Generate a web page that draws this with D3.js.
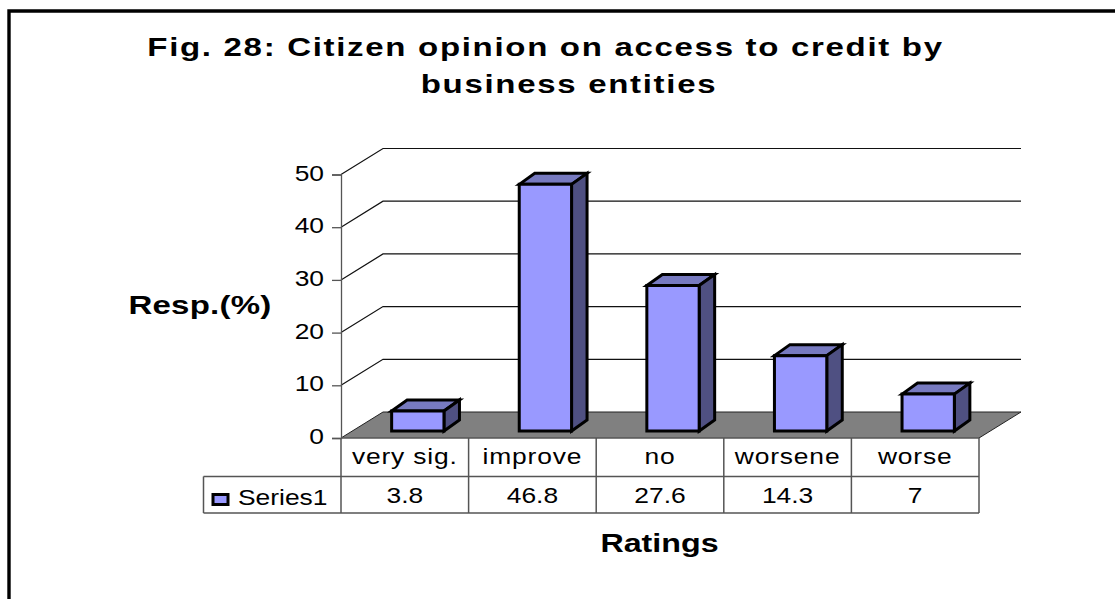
<!DOCTYPE html>
<html>
<head>
<meta charset="utf-8">
<script src="https://cdn.jsdelivr.net/npm/d3@7"></script>
<style>
html,body{margin:0;padding:0;background:#fff;}
svg{display:block;}
text{font-family:"Liberation Sans",Arial,sans-serif;fill:#000;}
</style>
</head>
<body>
<svg id="chart" width="1115" height="599"></svg>
<script>
const categories = ["very sig.", "improve", "no", "worsene", "worse"];
const seriesName = "Series1";
const values = [3.8, 46.8, 27.6, 14.3, 7];
const valueLabels = ["3.8", "46.8", "27.6", "14.3", "7"];
const yTicks = [0, 10, 20, 30, 40, 50];
const titleLines = ["Fig. 28: Citizen opinion on access to credit by", "business entities"];

const svg = d3.select("#chart");

// Chart frame: only the top and left edges fall inside the page
svg.append("path")
  .attr("d", "M9,599V11H1115")
  .attr("fill", "none").attr("stroke", "#000").attr("stroke-width", 3.4);

// Plot geometry: front plane of the floor and the depth of the 3D box
const left = 341, right = 979, floorY = 438, topY = 174.5;
const depth = {x: 42, y: -26};
const barDepth = {x: 15.5, y: -11};
const barInset = {x: 13, y: -7};

const x = d3.scaleBand().domain(categories).range([left, right]).paddingInner(0.59).paddingOuter(0.295);
const y = d3.scaleLinear().domain([0, 50]).range([floorY, topY]);

// All labels are set in a horizontally widened face
const wide = 1.2;
const widen = (sel, px, py, sx = wide) =>
  sel.attr("transform", (d, i) => `translate(${px(d, i)},${py(d, i)}) scale(${sx},1)`);

// Gridlines run up the side wall and along the back wall
svg.append("g").selectAll("path").data(yTicks.filter(d => d > 0)).join("path")
  .attr("d", d => `M${left},${y(d)}L${left + depth.x},${y(d) + depth.y}H${right + depth.x}`)
  .attr("fill", "none").attr("stroke", "#111").attr("stroke-width", 1.2);

// Floor
svg.append("path")
  .attr("d", `M${left},${floorY}L${left + depth.x},${floorY + depth.y}H${right + depth.x}L${right},${floorY}Z`)
  .attr("fill", "#808080");
svg.append("path")
  .attr("d", `M${left},${floorY}L${left + depth.x},${floorY + depth.y}H${right + depth.x}L${right},${floorY}`)
  .attr("fill", "none").attr("stroke", "#222").attr("stroke-width", 1);

// Value axis
const axis = d3.axisLeft(y).tickValues(yTicks).tickSize(9).tickPadding(0);
const axisG = svg.append("g").attr("transform", `translate(${left},0)`).call(axis);
axisG.selectAll("path,line").attr("stroke", "#555").attr("stroke-width", 1.3);
axisG.selectAll("text")
  .attr("x", 0).attr("dy", 0).attr("fill", "#000")
  .style("font-size", "22px").style("font-family", '"Liberation Sans",Arial,sans-serif');
widen(axisG.selectAll("text"), () => -17, () => 5.5);

// 3D bars: front, top and side faces
const bars = svg.append("g").selectAll("g").data(values).join("g")
  .attr("transform", (d, i) => `translate(${x(categories[i]) + barInset.x},${barInset.y})`);
const w = x.bandwidth();
const faces = [
  {fill: "#777ac0", d: v => `M0,${y(v)}l${barDepth.x},${barDepth.y}h${w}l${-barDepth.x},${-barDepth.y}Z`},
  {fill: "#4f5082", d: v => `M${w},${y(v)}l${barDepth.x},${barDepth.y}V${floorY + barDepth.y}l${-barDepth.x},${-barDepth.y}Z`},
  {fill: "#9999ff", d: v => `M0,${y(v)}h${w}V${floorY}H0Z`}
];
faces.forEach(f => {
  bars.append("path").attr("d", f.d).attr("fill", f.fill)
    .attr("stroke", "#000").attr("stroke-width", 3).attr("stroke-linejoin", "miter");
});

// Data table below the plot
const row1 = 476.5, row2 = 513, tableLeft = 203.5;
const table = svg.append("g").attr("fill", "none").attr("stroke", "#555").attr("stroke-width", 1.5);
table.append("path").attr("d", `M${left},${floorY}H${right}M${tableLeft},${row1}H${right}M${tableLeft},${row2}H${right}M${tableLeft},${row1}V${row2}`);
const colEdges = d3.range(categories.length + 1).map(i => left + i * x.step());
table.selectAll("line").data(colEdges).join("line")
  .attr("x1", d => d).attr("x2", d => d).attr("y1", floorY).attr("y2", row2);

const center = c => x(c) + x.bandwidth() / 2;
widen(svg.append("g").selectAll("text").data(categories).join("text")
  .attr("text-anchor", "middle").style("font-size", "22px").style("letter-spacing", "0.7px").text(d => d),
  d => center(d), () => 464);
widen(svg.append("g").selectAll("text").data(valueLabels).join("text")
  .attr("text-anchor", "middle").style("font-size", "22px").text(d => d),
  (d, i) => center(categories[i]), () => 503);

// Legend key inside the table
svg.append("rect").attr("x", 213).attr("y", 494.5).attr("width", 15).attr("height", 10)
  .attr("fill", "#9999ff").attr("stroke", "#000").attr("stroke-width", 3);
widen(svg.append("text").style("font-size", "22px").text(seriesName), () => 238, () => 505);

// Titles
const titleX = [545.5, 569];
widen(svg.append("g").selectAll("text").data(titleLines).join("text")
  .attr("text-anchor", "middle").style("font-size", "26px").style("font-weight", "bold")
  .style("letter-spacing", "1.33px").text(d => d),
  (d, i) => titleX[i], (d, i) => 56 + i * 36.5, 1.27);
widen(svg.append("text").attr("text-anchor", "middle").style("font-size", "26px").style("font-weight", "bold")
  .style("letter-spacing", "0.2px").text("Resp.(%)"), () => 200, () => 314, 1.27);
widen(svg.append("text").attr("text-anchor", "middle").style("font-size", "26px").style("font-weight", "bold")
  .text("Ratings"), () => 659.5, () => 552, 1.24);
</script>
</body>
</html>
